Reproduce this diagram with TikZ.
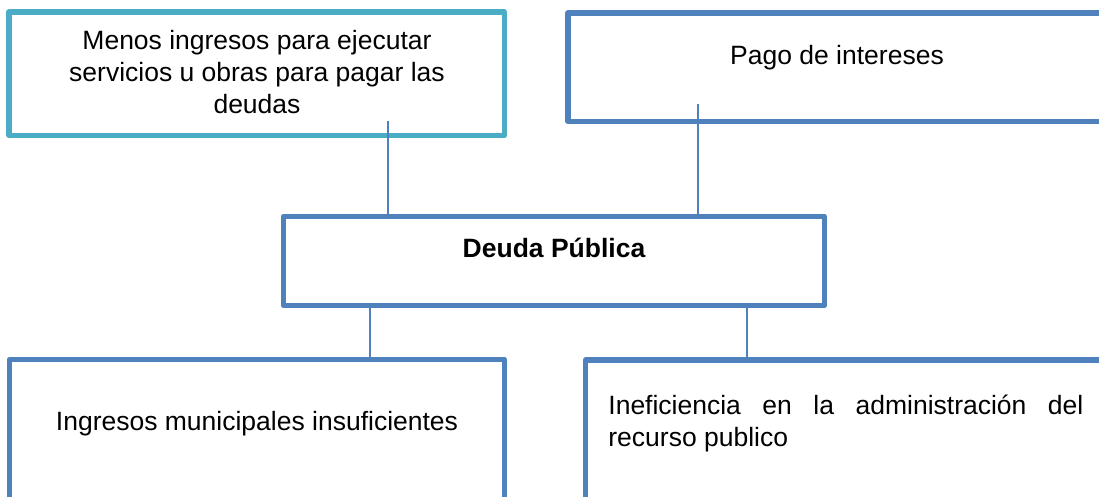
\documentclass[tikz,border=0pt]{standalone}
\usepackage{fontspec}
\setmainfont{Liberation Sans}
\usetikzlibrary{positioning}

\definecolor{azul}{HTML}{4F81BD}
\definecolor{turquesa}{HTML}{4BACC6}

\begin{document}
\begin{tikzpicture}[x=0.5pt, y=-0.5pt,
    caja/.style={draw=azul, line width=2.6pt, line join=round, inner sep=0pt},
    texto/.style={font=\fontsize{13.25}{16}\selectfont, inner sep=0pt, anchor=base},
    enlace/.style={draw=azul, line width=1pt}]

    % 0. área visible (las cajas se salen por la derecha y por abajo)
    \useasboundingbox (0,0) rectangle (1099,497);
    \clip (0,0) rectangle (1099,497);

    % 1. cajas
    \node[caja, draw=turquesa, minimum width=247.75pt, minimum height=61.75pt] (menos) at (256.75,73.75) {};
    \node[caja, minimum width=269pt, minimum height=54.25pt] (pago) at (837,67.25) {};
    \node[caja, minimum width=270.5pt, minimum height=44.5pt] (deuda) at (554,261) {};
    \node[caja, minimum width=247.5pt, minimum height=80.25pt] (ingresos) at (257,439.75) {};
    \node[caja, minimum width=260.25pt, minimum height=80pt] (ineficiencia) at (845.75,440) {};

    % 2. textos
    \node[texto, align=center] (tmenos) at (257,114) {Menos ingresos para ejecutar\\servicios u obras para pagar las\\deudas};
    \node[texto] (tpago) at (837,65) {Pago de intereses};
    \node[texto, font=\fontsize{13.25}{16}\selectfont\bfseries] (tdeuda) at (554,258) {Deuda Pública};
    \node[texto] (tingresos) at (257,430) {Ingresos municipales insuficientes};
    \node[texto, anchor=base west, text width=237.5pt, align=justify] (tineficiencia) at (608,415)
        {Ineficiencia en la administración del\linebreak recurso publico};

    % 3. conectores
    \coordinate (c1) at (388,121);
    \coordinate (c2) at (698,104);
    \coordinate (c3) at (370,0);
    \coordinate (c4) at (747,0);
    \draw[enlace] (c1) -- (c1 |- deuda.north);
    \draw[enlace] (c2) -- (c2 |- deuda.north);
    \draw[enlace] (deuda.south -| c3) -- (ingresos.north -| c3);
    \draw[enlace] (deuda.south -| c4) -- (ineficiencia.north -| c4);

\end{tikzpicture}
\end{document}
